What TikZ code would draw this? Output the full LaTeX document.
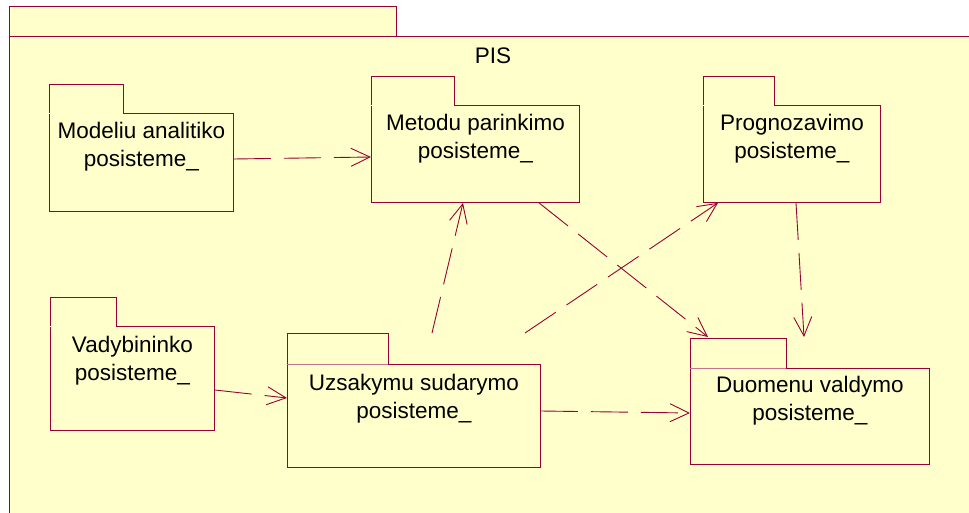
\documentclass[tikz,border=0pt]{standalone}
\usepackage{fontspec}
\setmainfont{Liberation Sans}
\usetikzlibrary{arrows.meta}

\definecolor{pkgline}{RGB}{153,0,51}
\definecolor{pkgfill}{RGB}{255,255,204}

\tikzset{
  pkgbody/.style={draw=pkgline, fill=pkgfill, line width=0.9pt, rectangle,
    inner sep=0pt, anchor=north west},
  pkgtab/.style={draw=pkgline, fill=pkgfill, line width=0.9pt},
  pkgsep/.style={draw=pkgline!55, line width=0.7pt},
  pkgtext/.style={align=center, inner sep=0pt, text=black,
    font=\fontsize{22.5}{28}\selectfont},
  dep/.style={draw=pkgline, line width=0.9pt, dash pattern=on 37pt off 13pt,
    -{Straight Barb[length=19pt, width=18pt, line width=0.9pt]}}
}

% open tab: a filled tab whose lower edge merges into the body
\newcommand\opentab[2]{%
  \fill[pkgfill] ([yshift=-1pt]#1.north west) rectangle ([xshift=#2, yshift=29pt]#1.north west);
  \draw[pkgtab, fill=none] (#1.north west) -- ++(0,-29) -| ([xshift=#2]#1.north west);
}

\begin{document}
\begin{tikzpicture}[x=1pt, y=-1pt]
\useasboundingbox[fill=white] (0,0) rectangle (969,513);

% enclosing package PIS (runs past the right and bottom edges)
\begin{scope}
  \clip (0,0) rectangle (969,513);
  \draw[pkgtab] (9,6) rectangle (396,36);
  \node[pkgbody, minimum width=990pt, minimum height=500pt] (pis) at (9,36) {};
\end{scope}
\node[pkgtext] (pislabel) at (493,56) {PIS};

% packages
\node[pkgbody, minimum width=184pt, minimum height=98pt] (modeliu) at (49,113) {};
\opentab{modeliu}{74pt}
\node[pkgtext] (modeliutxt) at ([yshift=-33.5pt]modeliu.north) {Modeliu analitiko\\posisteme\_};

\node[pkgbody, minimum width=208pt, minimum height=97pt] (metodu) at (371,105) {};
\opentab{metodu}{83pt}
\node[pkgtext] (metodutxt) at ([yshift=-33.5pt]metodu.north) {Metodu parinkimo\\posisteme\_};

\node[pkgbody, minimum width=177pt, minimum height=97pt] (prog) at (703,105) {};
\opentab{prog}{71pt}
\node[pkgtext] (progtxt) at ([yshift=-33.5pt]prog.north) {Prognozavimo\\posisteme\_};

\node[pkgbody, minimum width=164pt, minimum height=104pt] (vad) at (50,326) {};
\opentab{vad}{66pt}
\node[pkgtext] (vadtxt) at ([yshift=-35pt]vad.north) {Vadybininko\\posisteme\_};

\node[pkgbody, minimum width=253pt, minimum height=103pt] (uzs) at (287,364) {};
\fill[pkgfill] ([yshift=-1pt]uzs.north west) rectangle ([xshift=101pt, yshift=31pt]uzs.north west);
\draw[pkgtab, fill=none] (uzs.north west) -- ++(0,-31) -| ([xshift=101pt]uzs.north west);
\draw[pkgsep] (uzs.north west) -- ([xshift=101pt]uzs.north west);
\node[pkgtext] (uzstxt) at ([yshift=-35pt]uzs.north) {Uzsakymu sudarymo\\posisteme\_};

\node[pkgbody, minimum width=239pt, minimum height=96pt] (duo) at (690,368) {};
\fill[pkgfill] ([yshift=-1pt]duo.north west) rectangle ([xshift=96pt, yshift=30pt]duo.north west);
\draw[pkgtab, fill=none] (duo.north west) -- ++(0,-30) -| ([xshift=96pt]duo.north west);
\draw[pkgsep] (duo.north west) -- ([xshift=96pt]duo.north west);
\node[pkgtext] (duotxt) at ([yshift=-33pt]duo.north) {Duomenu valdymo\\posisteme\_};

% dependencies
\draw[dep] ([yshift=-46pt]modeliu.north east) -- ([yshift=-52pt]metodu.north west);
\draw[dep] ([yshift=-64pt]vad.north east) -- ([yshift=-34pt]uzs.north west);
\draw[dep] ([xshift=145pt, yshift=31pt]uzs.north west) -- ([xshift=92pt]metodu.south west);
\draw[dep] ([xshift=238pt, yshift=31pt]uzs.north west) -- ([xshift=15pt]prog.south west);
\draw[dep] ([xshift=168pt]metodu.south west) -- ([xshift=18pt, yshift=31pt]duo.north west);
\draw[dep] ([xshift=93pt]prog.south west) -- ([xshift=114pt, yshift=31pt]duo.north west);
\draw[dep] ([yshift=-47pt]uzs.north east) -- ([yshift=-45pt]duo.north west);
\end{tikzpicture}
\end{document}
